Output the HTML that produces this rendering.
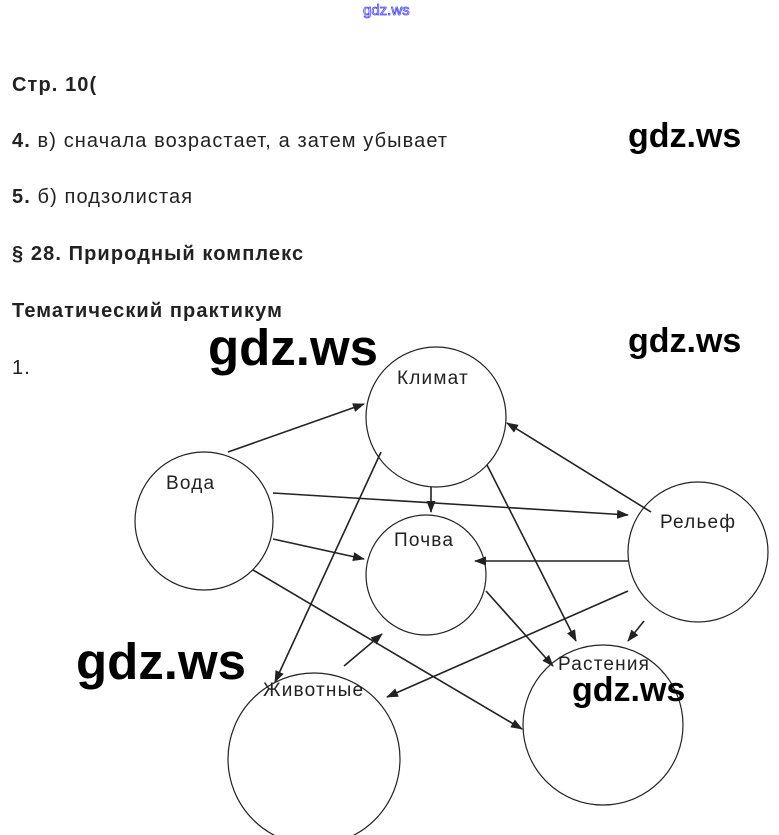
<!DOCTYPE html>
<html><head><meta charset="utf-8"><style>
body{margin:0;width:779px;height:835px;background:#fff;position:relative;overflow:hidden;font-family:"Liberation Sans",Arial,sans-serif;color:#222}
.t{position:absolute;left:12px;font-size:20px;line-height:22px;white-space:nowrap;letter-spacing:1.1px}
.b{font-weight:bold}
.w{position:absolute;font-family:"Liberation Sans",sans-serif;font-weight:bold;color:#000;line-height:1;white-space:nowrap}
</style></head><body>
<div class="w" style="left:363px;top:3px;font-size:15px;font-weight:normal;color:#fff;-webkit-text-stroke:0.8px #4a4aff">gdz.ws</div>
<div class="t b" style="top:74px">Стр. 10(</div>
<div class="t" style="top:130px"><b>4.</b> в) сначала возрастает, а затем убывает</div>
<div class="t" style="top:186px"><b>5.</b> б) подзолистая</div>
<div class="t b" style="top:243px">§ 28. Природный комплекс</div>
<div class="t b" style="top:300px">Тематический практикум</div>
<div class="t" style="top:357px">1.</div>
<svg width="779" height="835" style="position:absolute;left:0;top:0">
<defs><marker id="a" markerWidth="12" markerHeight="9" refX="11" refY="4.5" orient="auto" markerUnits="userSpaceOnUse"><path d="M0,0 L12,4.5 L0,9z" fill="#222"/></marker></defs>
<g fill="none" stroke="#222" stroke-width="1.2">
<circle cx="436" cy="417" r="70"/>
<circle cx="204" cy="521" r="69"/>
<circle cx="426" cy="575" r="60"/>
<circle cx="698" cy="552" r="70"/>
<circle cx="603" cy="725" r="80"/>
<circle cx="314" cy="759" r="86"/>
</g>
<g stroke="#222" stroke-width="1.6" marker-end="url(#a)">
<line x1="228" y1="452" x2="364" y2="404"/>
<line x1="273" y1="493" x2="628" y2="515"/>
<line x1="273" y1="539" x2="364" y2="559"/>
<line x1="253" y1="570" x2="522" y2="729"/>
<line x1="431" y1="487" x2="431" y2="512"/>
<line x1="381" y1="452" x2="275" y2="682"/>
<line x1="487" y1="465" x2="576" y2="641"/>
<line x1="651" y1="512" x2="507" y2="423"/>
<line x1="628" y1="561" x2="475" y2="561"/>
<line x1="628" y1="591" x2="387" y2="697"/>
<line x1="644" y1="621" x2="628" y2="641"/>
<line x1="486" y1="591" x2="553" y2="666"/>
<line x1="344" y1="666" x2="382" y2="634"/>
</g>
<g font-family="Liberation Sans,Arial,sans-serif" font-size="19" letter-spacing="1.2" fill="#222">
<text x="397" y="384">Климат</text>
<text x="166" y="489">Вода</text>
<text x="394" y="546">Почва</text>
<text x="660" y="528">Рельеф</text>
<text x="558" y="670">Растения</text>
<text x="263" y="696">Животные</text>
</g>
</svg>
<div class="w" style="left:208px;top:322px;font-size:51px">gdz.ws</div>
<div class="w" style="left:628px;top:119px;font-size:34px">gdz.ws</div>
<div class="w" style="left:628px;top:324px;font-size:34px">gdz.ws</div>
<div class="w" style="left:76px;top:636px;font-size:51px">gdz.ws</div>
<div class="w" style="left:572px;top:673px;font-size:34px">gdz.ws</div>
</body></html>
